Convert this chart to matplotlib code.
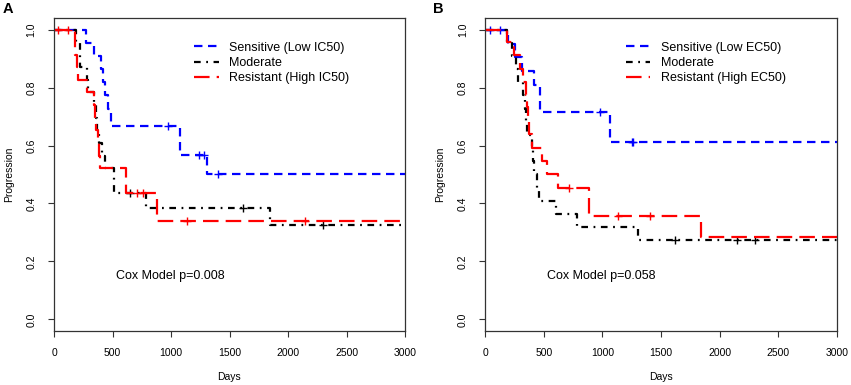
import numpy as np
import matplotlib
matplotlib.use("Agg")
import matplotlib.pyplot as plt
from matplotlib.lines import Line2D

plt.rcParams['font.family'] = ['Liberation Sans', 'DejaVu Sans']

# ---------------- data ----------------
# Panel A (IC50)
a_sens_t = [0, 270, 340, 400, 415, 435, 460, 490, 1075, 1305]
a_sens_s = [1.0, 0.955, 0.909, 0.864, 0.818, 0.773, 0.727, 0.667, 0.567, 0.500]
a_sens_c = [975, 1242, 1282, 1405]

a_mod_t = [0, 188, 222, 225, 285, 288, 345, 355, 368, 385, 410, 440, 515, 790, 1846]
a_mod_s = [1.0, 0.957, 0.913, 0.870, 0.826, 0.783, 0.739, 0.696, 0.652, 0.609, 0.565, 0.522, 0.435, 0.383, 0.327]
a_mod_c = [650, 1615, 2302]

a_res_t = [0, 180, 182, 195, 208, 285, 342, 350, 360, 375, 385, 395, 612, 878]
a_res_s = [1.0, 0.957, 0.913, 0.870, 0.826, 0.783, 0.739, 0.696, 0.652, 0.609, 0.565, 0.522, 0.435, 0.340]
a_res_c = [30, 122, 706, 758, 1134, 2145]

# Panel B (EC50)
b_sens_t = [0, 196, 250, 310, 415, 470, 1065]
b_sens_s = [1.0, 0.952, 0.905, 0.857, 0.810, 0.714, 0.613]
b_sens_c = [40, 125, 979, 1250, 1264]

b_mod_t = [0, 182, 230, 260, 282, 325, 335, 350, 360, 395, 410, 420, 440, 455, 605, 785, 1306]
b_mod_s = [1.0, 0.955, 0.909, 0.864, 0.818, 0.773, 0.727, 0.682, 0.636, 0.591, 0.545, 0.500, 0.455, 0.409, 0.364, 0.318, 0.273]
b_mod_c = [1617, 2146, 2302]

b_res_t = [0, 182, 245, 294, 324, 350, 358, 366, 374, 398, 485, 528, 618, 882, 1841]
b_res_s = [1.0, 0.957, 0.912, 0.864, 0.820, 0.774, 0.734, 0.690, 0.640, 0.592, 0.545, 0.501, 0.455, 0.356, 0.283]
b_res_c = [712, 1135, 1406]

labels_a = ["Sensitive (Low IC50)", "Moderate", "Resistant (High IC50)"]
labels_b = ["Sensitive (Low EC50)", "Moderate", "Resistant (High EC50)"]
cox_a = "Cox Model p=0.008"
cox_b = "Cox Model p=0.058"
x_ticks = [0, 500, 1000, 1500, 2000, 2500, 3000]
y_ticks = [0.0, 0.2, 0.4, 0.6, 0.8, 1.0]
x_max = 3000

# ---------------- styles ----------------
LW = 1.6
styles = [
    dict(color='#0000FF', dashes=(3.8, 2.5)),
    dict(color='#000000', dashes=(3.0, 2.5, 0.8, 2.5)),
    dict(color='#FF0000', dashes=(7.0, 3.2)),
]


def draw_panel(ax, groups, labels, cox):
    for (t, s, c), st in zip(groups, styles):
        t = np.asarray(t, float)
        s = np.asarray(s, float)
        tt = np.append(t, x_max)
        ss = np.append(s, s[-1])
        ax.step(tt, ss, where='post', color=st['color'], lw=LW,
                dashes=st['dashes'], dash_capstyle='butt', solid_capstyle='butt')
        c = np.asarray(c, float)
        idx = np.searchsorted(t, c, side='right') - 1
        ax.plot(c, s[idx], linestyle='none', marker='+', color=st['color'],
                markersize=6, mew=1.0)
    ax.set_xlim(0, x_max)
    ax.set_ylim(-0.04, 1.04)
    ax.set_xticks(x_ticks)
    ax.set_xticklabels([str(v) for v in x_ticks])
    ax.set_yticks(y_ticks)
    ax.set_yticklabels([f"{v:.1f}" for v in y_ticks], rotation=90, va='center')
    ax.tick_params(axis='both', direction='out', length=4, width=0.8,
                   labelsize=7.5, pad=8.5, color='#333333')
    for sp in ax.spines.values():
        sp.set_linewidth(0.9)
        sp.set_color('#333333')
    ax.set_xlabel("Days", fontsize=7.5, va='center')
    ax.set_ylabel("Progression", fontsize=7.5, va='center')
    ax.xaxis.set_label_coords(0.5, -0.147)
    ax.yaxis.set_label_coords(-0.128, 0.5)
    handles = [Line2D([0], [0], color=st['color'], lw=LW, dashes=st['dashes'])
               for st in styles]
    ax.legend(handles, labels, loc='upper left', bbox_to_anchor=(0.40, 0.924),
              frameon=False, fontsize=9, handlelength=1.95, handletextpad=0.85,
              labelspacing=0.25, borderpad=0, borderaxespad=0)
    ax.text(530, 0.15, cox, fontsize=9, va='center', ha='left')


fig = plt.figure(figsize=(8.51, 3.85), dpi=100)
axA = fig.add_axes([54 / 851, 1 - 331 / 385, 351 / 851, 313 / 385])
axB = fig.add_axes([485.3 / 851, 1 - 331 / 385, 351.4 / 851, 313 / 385])

draw_panel(axA, [(a_sens_t, a_sens_s, a_sens_c), (a_mod_t, a_mod_s, a_mod_c),
                 (a_res_t, a_res_s, a_res_c)], labels_a, cox_a)
draw_panel(axB, [(b_sens_t, b_sens_s, b_sens_c), (b_mod_t, b_mod_s, b_mod_c),
                 (b_res_t, b_res_s, b_res_c)], labels_b, cox_b)

fig.text(3 / 851, 1 - 9 / 385, "A", fontsize=10.5, fontweight='bold',
         va='center', ha='left')
fig.text(433 / 851, 1 - 9 / 385, "B", fontsize=10.5, fontweight='bold',
         va='center', ha='left')

fig.savefig("out.png", dpi=100)
